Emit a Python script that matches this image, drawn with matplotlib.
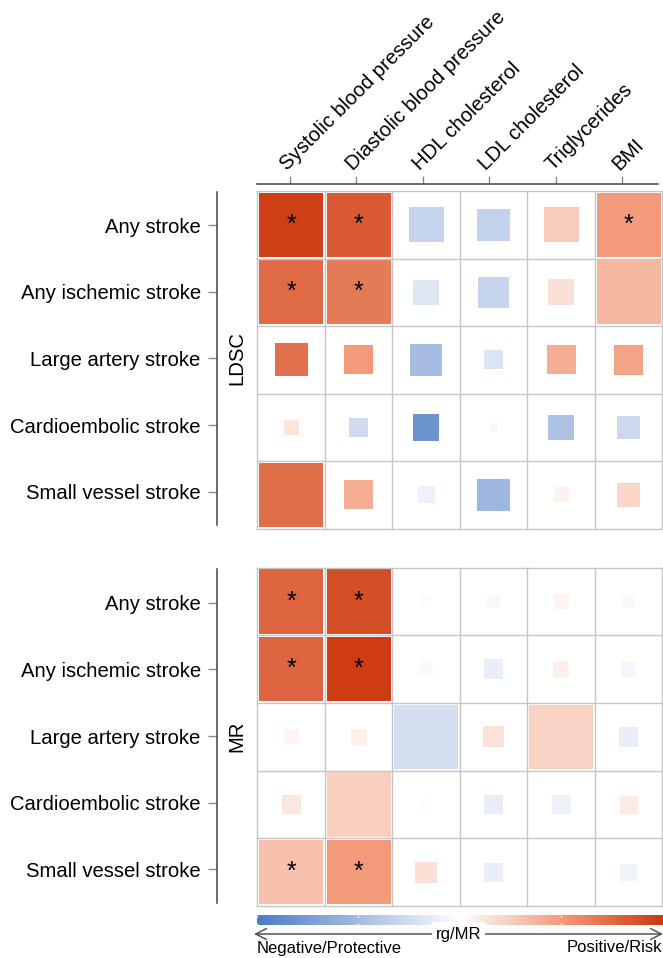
import numpy as np
import matplotlib
matplotlib.use("Agg")
import matplotlib.pyplot as plt
from matplotlib.colors import LinearSegmentedColormap, Normalize
from matplotlib.patches import Rectangle

plt.rcParams['font.family'] = ['Liberation Sans', 'DejaVu Sans']

# ---------------------------------------------------------------- data
outcomes = ["Any stroke", "Any ischemic stroke", "Large artery stroke",
            "Cardioembolic stroke", "Small vessel stroke"]
traits = ["Systolic blood pressure", "Diastolic blood pressure",
          "HDL cholesterol", "LDL cholesterol", "Triglycerides", "BMI"]

# genetic correlations (LDSC), rows = outcomes, columns = traits
ldsc_rg = [
    [0.97, 0.835, -0.317, -0.333, 0.25, 0.505],
    [0.747, 0.67, -0.178, -0.317, 0.15, 0.355],
    [0.716, 0.505, -0.489, -0.189, 0.405, 0.46],
    [0.14, -0.261, -0.808, -0.05, -0.45, -0.283],
    [0.727, 0.41, -0.094, -0.533, 0.07, 0.205],
]
ldsc_p = [
    [1e-5, 1e-4, 0.41, 0.47, 0.41, 5e-4],
    [1e-4, 2e-4, 0.63, 0.50, 0.61, 0.02],
    [0.45, 0.54, 0.47, 0.77, 0.54, 0.52],
    [0.85, 0.77, 0.59, 0.94, 0.63, 0.68],
    [0.01, 0.54, 0.81, 0.47, 0.85, 0.66],
]

# Mendelian randomization estimates, same layout
mr_est = [
    [0.768, 0.897, -0.02, -0.04, 0.055, -0.04],
    [0.77, 0.99, -0.035, -0.12, 0.075, -0.07],
    [0.05, 0.075, -0.24, 0.145, 0.22, -0.13],
    [0.12, 0.235, -0.01, -0.13, -0.10, 0.105],
    [0.31, 0.50, 0.155, -0.12, 0.0, -0.09],
]
mr_p = [
    [1e-5, 1e-6, 0.92, 0.88, 0.85, 0.87],
    [1e-5, 1e-7, 0.87, 0.75, 0.83, 0.85],
    [0.85, 0.83, 0.03, 0.72, 0.04, 0.75],
    [0.77, 0.03, 0.90, 0.75, 0.77, 0.79],
    [1e-3, 1e-4, 0.72, 0.77, 0.995, 0.81],
]

panel_names = ["LDSC", "MR"]
scale_label = "rg/MR"
low_label = "Negative/Protective"
high_label = "Positive/Risk"

nominal_alpha = 0.05
bonferroni_alpha = nominal_alpha / (len(outcomes) * len(traits))

# ---------------------------------------------------------------- style
cmap = LinearSegmentedColormap.from_list(
    "rg_mr",
    [(0.0, "#4a7ec4"), (0.25, "#a5bbe2"), (0.5, "#ffffff"),
     (0.75, "#f29b7b"), (1.0, "#cc3a10")])
norm = Normalize(vmin=-1, vmax=1)

W, H = 663, 958
fig = plt.figure(figsize=(W / 100, H / 100), dpi=100)
LABEL_FS = 14.6
STAR_FS = 18
SMALL_FS = 12.0
GRID_C = "#c6c6c6"
AXIS_C = "#444444"
TICK_C = "#8a8a8a"


def add_axes_px(x0, y0, x1, y1):
    return fig.add_axes([x0 / W, 1 - y1 / H, (x1 - x0) / W, (y1 - y0) / H])


def draw_panel(ax, values, pvals):
    values = np.asarray(values, float)
    pvals = np.asarray(pvals, float)
    nr, nc = values.shape
    ax.set_xlim(-0.5, nc - 0.5)
    ax.set_ylim(nr - 0.5, -0.5)
    ax.set_axis_off()
    full = 0.948
    for i in range(nr):
        for j in range(nc):
            p = pvals[i, j]
            frac = min(1.0, -np.log10(p) / -np.log10(nominal_alpha))
            side = full * np.sqrt(frac)
            ax.add_patch(Rectangle((j - side / 2, i - side / 2), side, side,
                                   facecolor=cmap(norm(values[i, j])),
                                   edgecolor="none", zorder=1))
            if p < bonferroni_alpha:
                ax.text(j, i, "*", ha="center", va="center",
                        fontsize=STAR_FS, color="black", zorder=3)
    for k in range(nc + 1):
        ax.axvline(k - 0.5, color=GRID_C, lw=1.0, zorder=2, clip_on=False)
    for k in range(nr + 1):
        ax.axhline(k - 0.5, color=GRID_C, lw=1.0, zorder=2, clip_on=False)


def draw_row_axis(ax):
    ax.set_ylim(len(outcomes) - 0.5, -0.5)
    ax.set_xlim(0, 1)
    for s in ("top", "right", "bottom"):
        ax.spines[s].set_visible(False)
    ax.spines["left"].set_color(AXIS_C)
    ax.spines["left"].set_linewidth(1.1)
    ax.set_xticks([])
    ax.set_yticks(range(len(outcomes)))
    ax.set_yticklabels(outcomes, fontsize=LABEL_FS)
    ax.tick_params(axis="y", direction="out", length=6.5, width=1.0,
                   color=TICK_C, pad=5.0)
    ax.patch.set_visible(False)


# heat-map panels
ax_top = add_axes_px(257.3, 191.0, 662.3, 528.7)
draw_panel(ax_top, ldsc_rg, ldsc_p)
ax_bot = add_axes_px(257.3, 567.7, 662.3, 906.0)
draw_panel(ax_bot, mr_est, mr_p)

# outcome axes on the left
ax_l1 = add_axes_px(216.7, 191.7, 218.0, 525.0)
draw_row_axis(ax_l1)
ax_l2 = add_axes_px(216.7, 569.4, 218.0, 902.7)
draw_row_axis(ax_l2)
fig.text(237.3 / W, 1 - 358.3 / H, panel_names[0], rotation=90,
         ha="center", va="center", fontsize=LABEL_FS)
fig.text(237.3 / W, 1 - 736.0 / H, panel_names[1], rotation=90,
         ha="center", va="center", fontsize=LABEL_FS)

# trait axis on top (its top spine is the horizontal rule)
ax_t = add_axes_px(256.7, 184.3, 658.0, 186.0)
ax_t.set_xlim(-0.5, 5.54)
ax_t.set_ylim(0, 1)
for s in ("left", "right", "bottom"):
    ax_t.spines[s].set_visible(False)
ax_t.spines["top"].set_color(AXIS_C)
ax_t.spines["top"].set_linewidth(1.1)
ax_t.set_yticks([])
ax_t.xaxis.set_ticks_position("top")
ax_t.set_xticks(range(len(traits)))
ax_t.set_xticklabels(traits, fontsize=LABEL_FS, rotation=45,
                     rotation_mode="anchor", ha="left", va="bottom")
ax_t.tick_params(axis="x", direction="out", length=5.8, width=1.0,
                 color=TICK_C, pad=1.5)
ax_t.patch.set_visible(False)

# colour scale
ax_cb = add_axes_px(257.0, 915.0, 662.5, 924.7)
grad = np.linspace(-1, 1, 600)[None, :]
ax_cb.imshow(grad, cmap=cmap, norm=norm, aspect="auto",
             extent=(-1, 1, 0, 1), interpolation="bilinear")
ax_cb.set_xlim(-1, 1)
ax_cb.set_ylim(0, 1)
for s in ax_cb.spines.values():
    s.set_visible(False)
ax_cb.set_yticks([])
ax_cb.set_xticks([-1, -0.5, 0, 0.5, 1])
ax_cb.tick_params(axis="x", direction="in", length=1.6, width=0.8,
                  color="white", top=True, bottom=True,
                  labelbottom=False, labeltop=False)

# direction arrow with title
ax_ar = add_axes_px(254.0, 928.0, 663.0, 940.0)
ax_ar.set_xlim(0, 1)
ax_ar.set_ylim(0, 1)
ax_ar.set_axis_off()
ax_ar.annotate("", xy=(0, 0.5), xytext=(1, 0.5),
               arrowprops=dict(arrowstyle="<->,head_length=0.55,head_width=0.28",
                               mutation_scale=14, color="#555555", lw=1.1,
                               shrinkA=0, shrinkB=0))
ax_ar.text(0.5, 0.5, scale_label, ha="center", va="center",
           fontsize=SMALL_FS,
           bbox=dict(boxstyle="square,pad=0.25", fc="white", ec="none"))
fig.text(257.0 / W, 1 - 952.5 / H, low_label, ha="left", va="baseline",
         fontsize=SMALL_FS)
fig.text(662.5 / W, 1 - 952.5 / H, high_label, ha="right", va="baseline",
         fontsize=SMALL_FS)

fig.savefig("out.png", dpi=100)
